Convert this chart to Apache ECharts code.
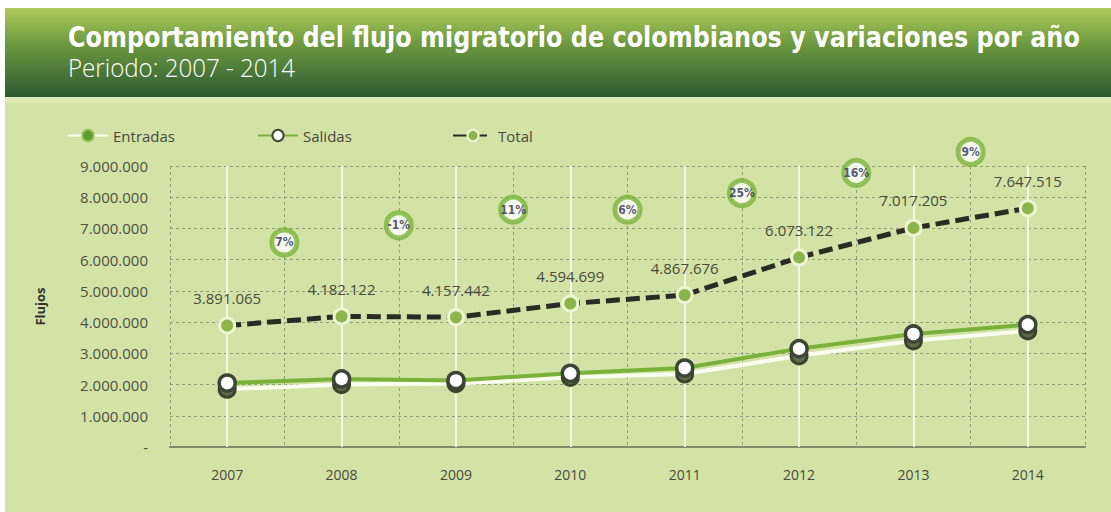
<!DOCTYPE html>
<html>
<head>
<meta charset="utf-8">
<script src="https://cdn.jsdelivr.net/npm/echarts@6/dist/echarts.min.js"></script>
<style>
html,body{margin:0;padding:0;background:#ffffff;}
#chart{width:1111px;height:512px;}
</style>
</head>
<body>
<div id="chart"></div>
<script>
const categories = ['2007','2008','2009','2010','2011','2012','2013','2014'];
const entradas = [1850000, 2000000, 2030000, 2230000, 2340000, 2920000, 3400000, 3720000];
const salidas  = [2050000, 2180000, 2130000, 2360000, 2530000, 3150000, 3620000, 3920000];
const total    = [3891065, 4182122, 4157442, 4594699, 4867676, 6073122, 7017205, 7647515];
const variaciones = ['7%','-1%','11%','6%','25%','16%','9%'];
const variacionY  = [6550000, 7100000, 7600000, 7600000, 8130000, 8780000, 9450000];
const yMax = 9000000, yInterval = 1000000;
const titleText = 'Comportamiento del flujo migratorio de colombianos y variaciones por año';
const subtitleText = 'Periodo: 2007 - 2014';

function fmt(v){ return v === 0 ? '-' : String(Math.round(v)).replace(/\B(?=(\d{3})+(?!\d))/g, '.'); }

const mctx = document.createElement('canvas').getContext('2d');
function fitScale(font, text, width){ mctx.font = font; return width / mctx.measureText(text).width; }
const titleFont = 'bold 28px "DejaVu Sans Condensed"';
const subFont = '300 26px "Open Sans"';
const titleScale = fitScale(titleFont, titleText, 1012);
const subScale = fitScale(subFont, subtitleText, 227);

const baseFont = '"Open Sans", "DejaVu Sans", sans-serif';

const chart = echarts.init(document.getElementById('chart'), null, {renderer:'svg'});
chart.setOption({
  animation:false,
  backgroundColor:'#ffffff',
  graphic:[
    {type:'rect', z:-10, shape:{x:5,y:97,width:1106,height:415}, style:{fill:'#d3e3a5'}},
    {type:'rect', z:-9, shape:{x:5,y:97,width:1106,height:6}, style:{fill:'#dbe9b6'}},
    {type:'rect', z:-9, shape:{x:5,y:8,width:1106,height:89}, style:{fill:{type:'linear',x:0,y:0,x2:0,y2:1,colorStops:[
      {offset:0,color:'#aecb5c'},{offset:0.4,color:'#6e993f'},{offset:1,color:'#2c5a32'}]}}},
    {type:'text', z:10, x:68, y:37, scaleX:titleScale, style:{text:titleText, font:titleFont, fill:'#ffffff', align:'left', verticalAlign:'middle'}},
    {type:'text', z:10, x:68, y:67, scaleX:subScale, style:{text:subtitleText, font:subFont, fill:'#ffffff', align:'left', verticalAlign:'middle'}}
  ],
  legend:[
    {left:62, top:123, itemWidth:40, itemHeight:14, textStyle:{fontFamily:baseFont,fontSize:15,color:'#4a4a40'},
     data:[{name:'Entradas', itemStyle:{color:'#5f9a2e', borderColor:'#8fc050', borderWidth:2}}]},
    {left:252, top:123, itemWidth:40, itemHeight:14, textStyle:{fontFamily:baseFont,fontSize:15,color:'#4a4a40'}, data:['Salidas']},
    {left:447, top:123, itemWidth:40, itemHeight:14, textStyle:{fontFamily:baseFont,fontSize:15,color:'#4a4a40'}, data:['Total']}
  ],
  grid:{left:170, right:26, top:166, bottom:65},
  xAxis:[
    {type:'category', data:categories, boundaryGap:true,
     axisLine:{lineStyle:{color:'#7d8c68', width:2}},
     axisTick:{show:false},
     axisLabel:{fontFamily:baseFont, fontSize:14, color:'#4a4a40', margin:20},
     splitLine:{show:true, lineStyle:{color:'#8e9c78', type:[3,3], width:1}}},
    {type:'value', min:0, max:8, show:false}
  ],
  yAxis:{type:'value', min:0, max:yMax, interval:yInterval,
    name:'Flujos', nameLocation:'middle', nameRotate:90, nameGap:124,
    nameTextStyle:{fontFamily:baseFont, fontWeight:'bold', fontSize:13, color:'#333333'},
    axisLine:{show:false}, axisTick:{show:false},
    axisLabel:{formatter:fmt, fontFamily:baseFont, fontSize:15, color:'#4f5046', margin:22},
    splitLine:{lineStyle:{color:'#8e9c78', type:[3,3], width:1.2}}},
  series:[
    {name:'Entradas', type:'line', z:2, data:entradas, symbol:'circle', symbolSize:16,
     lineStyle:{color:'#fbfdf0', width:4}, itemStyle:{color:'#5e6e48', borderColor:'#3a4530', borderWidth:3},
     markLine:{z:1, silent:true, symbol:['none','none'], label:{show:false}, animation:false,
       lineStyle:{color:'#f4f9e4', width:2, type:'solid'},
       data:categories.map(c=>({xAxis:c}))}},
    {name:'Salidas', type:'line', z:3, data:salidas, symbol:'circle', symbolSize:16,
     lineStyle:{color:'#79b13a', width:4}, itemStyle:{color:'#ffffff', borderColor:'#3c4536', borderWidth:3.5}},
    {name:'Total', type:'line', z:4, data:total, symbol:'circle', symbolSize:15,
     lineStyle:{color:'#2b2b26', width:5, type:[14,6]},
     itemStyle:{color:'#8db64a', borderColor:'#eef6d6', borderWidth:3},
     label:{show:true, position:'top', distance:11, formatter:p=>fmt(p.value),
       fontFamily:baseFont, fontSize:15, color:'#4a4a3e'}},
    {name:'Variación', type:'scatter', xAxisIndex:1, z:5, clip:false, symbol:'circle', symbolSize:25,
     data:variacionY.map((v,i)=>({value:[i+1, v], name:variaciones[i]})),
     itemStyle:{color:'#ffffff', borderColor:'#7ab33a', borderWidth:5},
     label:{show:true, position:'inside', formatter:p=>p.name,
       fontFamily:'"DejaVu Sans Condensed"', fontWeight:'bold', fontSize:12, color:'#2b2b55'}}
  ]
});
</script>
</body>
</html>
